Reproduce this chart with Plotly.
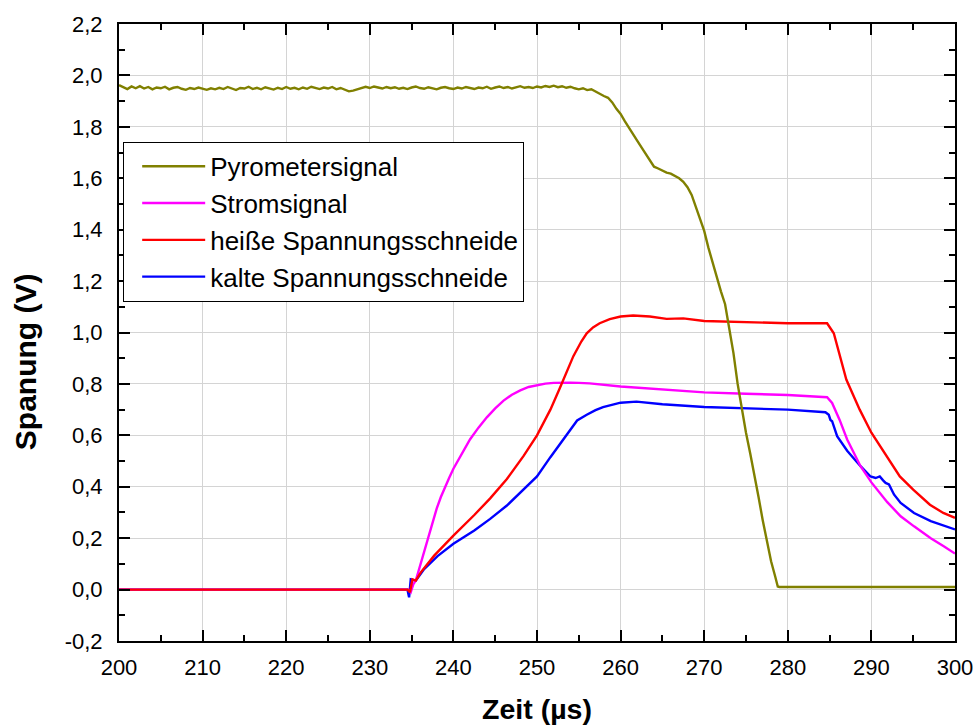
import plotly.graph_objects as go

# ---------------- data ----------------
pyro_t = [200, 200.5, 201, 201.5, 202, 202.5, 203, 203.5, 204, 204.5,
          205, 205.5, 206, 206.5, 207, 207.5, 208, 208.5, 209, 209.5,
          210, 210.5, 211, 211.5, 212, 212.5, 213, 213.5, 214, 214.5,
          215, 215.5, 216, 216.5, 217, 217.5, 218, 218.5, 219, 219.5,
          220, 220.5, 221, 221.5, 222, 222.5, 223, 223.5, 224, 224.5,
          225, 225.5, 226, 226.5, 227, 227.5, 228, 228.5, 229, 229.5,
          230, 230.5, 231, 231.5, 232, 232.5, 233, 233.5, 234, 234.5,
          235, 235.5, 236, 236.5, 237, 237.5, 238, 238.5, 239, 239.5,
          240, 240.5, 241, 241.5, 242, 242.5, 243, 243.5, 244, 244.5,
          245, 245.5, 246, 246.5, 247, 247.5, 248, 248.5, 249, 249.5,
          250, 250.5, 251, 251.5, 252, 252.5, 253, 253.5, 254, 254.5,
          255, 255.5, 256, 256.5, 257, 257.5, 258, 258.5, 259, 259.5,
          260, 260.5, 261, 261.5, 262, 262.5, 263, 263.5, 264, 264.5,
          265, 265.5, 266, 266.5, 267, 267.5, 268, 268.5, 269, 269.5,
          270, 270.5, 271, 271.5, 272, 272.5, 273, 273.5, 274, 274.5,
          275, 275.5, 276, 276.5, 277, 277.5, 278, 278.5, 278.8, 279,
          285, 290, 295, 300]
pyro_v = [1.962, 1.954, 1.947, 1.957, 1.950, 1.958, 1.949, 1.955, 1.946, 1.953,
          1.950, 1.956, 1.946, 1.952, 1.955, 1.948, 1.944, 1.951, 1.947, 1.953,
          1.949, 1.944, 1.950, 1.946, 1.952, 1.947, 1.955, 1.948, 1.943, 1.951,
          1.949, 1.956, 1.947, 1.952, 1.946, 1.954, 1.949, 1.945, 1.952, 1.947,
          1.955, 1.948, 1.952, 1.946, 1.953, 1.948, 1.956, 1.950, 1.947, 1.953,
          1.949, 1.955, 1.946, 1.951, 1.944, 1.938, 1.941, 1.947, 1.953, 1.956,
          1.951, 1.957, 1.953, 1.949, 1.955, 1.950, 1.954, 1.948, 1.952, 1.947,
          1.953, 1.957, 1.951, 1.948, 1.954, 1.949, 1.946, 1.952, 1.955, 1.950,
          1.947, 1.953, 1.949, 1.955, 1.951, 1.947, 1.953, 1.950, 1.956, 1.948,
          1.953, 1.957, 1.951, 1.955, 1.949, 1.954, 1.958, 1.952, 1.955, 1.951,
          1.957, 1.953, 1.959, 1.955, 1.960, 1.954, 1.958, 1.952, 1.956, 1.950,
          1.946, 1.950, 1.943, 1.946, 1.937, 1.927, 1.920, 1.913, 1.895, 1.870,
          1.850, 1.822, 1.795, 1.770, 1.745, 1.720, 1.695, 1.665, 1.645, 1.638,
          1.630, 1.622, 1.618, 1.610, 1.600, 1.586, 1.565, 1.535, 1.490, 1.445,
          1.395, 1.330, 1.270, 1.220, 1.160, 1.110, 1.020, 0.920, 0.800, 0.700,
          0.610, 0.530, 0.450, 0.360, 0.270, 0.190, 0.110, 0.050, 0.012, 0.010,
          0.010, 0.010, 0.010, 0.010]

strom_t = [200, 234.6, 234.9, 235.2, 235.5, 236.0, 236.5, 237.0, 237.5, 238.0,
           238.5, 239.0, 239.5, 240.0, 241.0, 242.0, 243.0, 244.0, 245.0, 246.0,
           247.0, 248.0, 249.0, 250.0, 251.0, 252.0, 253.0, 254.0, 255.0, 256.3,
           260.0, 265.0, 270.0, 275.0, 280.0, 284.7, 285.3, 286.2, 287.1, 288.7,
           290.0, 291.9, 293.5, 295.1, 297.1, 298.7, 300.0]
strom_v = [0.0, 0.0, -0.01, 0.02, 0.035, 0.09, 0.15, 0.21, 0.265, 0.315,
           0.36, 0.40, 0.435, 0.47, 0.53, 0.585, 0.63, 0.67, 0.705, 0.735,
           0.758, 0.775, 0.788, 0.796, 0.801, 0.804, 0.805, 0.805, 0.804, 0.802,
           0.79, 0.778, 0.767, 0.762, 0.757, 0.748, 0.726, 0.66, 0.584, 0.48,
           0.417, 0.34, 0.285, 0.246, 0.20, 0.168, 0.14]

hot_t = [200, 234.5, 234.8, 235.1, 235.5, 236.1, 237.7, 240.0, 242.5, 244.4,
         246.4, 248.4, 250.0, 251.6, 252.75, 254.35, 255.3, 255.95, 256.7, 257.5,
         258.7, 260.0, 261.5, 263.5, 265.5, 267.5, 270.0, 275.0, 280.0, 284.7,
         285.5, 287.0, 288.6, 290.0, 291.8, 293.4, 295.0, 297.0, 298.6, 300.0]
hot_v = [0.0, 0.0, -0.01, 0.04, 0.035, 0.067, 0.132, 0.21, 0.29, 0.355,
         0.43, 0.52, 0.60, 0.70, 0.785, 0.908, 0.965, 0.997, 1.02, 1.036,
         1.052, 1.062, 1.066, 1.062, 1.053, 1.055, 1.045, 1.040, 1.036, 1.036,
         0.997, 0.817, 0.70, 0.61, 0.52, 0.44, 0.389, 0.33, 0.298, 0.279]

cold_t = [200, 234.5, 234.7, 234.9, 235.5, 236.5, 238.1, 240.0, 242.5, 244.4,
          246.4, 248.4, 250.0, 251.6, 253.2, 254.8, 255.95, 257.0, 257.9, 260.0,
          261.9, 265.0, 270.0, 275.2, 280.0, 284.5, 284.9, 285.1, 285.3, 285.9,
          287.1, 288.7, 289.9, 290.5, 291.0, 291.4, 291.7, 292.1, 292.7, 293.5,
          295.1, 297.1, 300.0]
cold_v = [0.0, 0.0, -0.03, 0.04, 0.035, 0.08, 0.13, 0.178, 0.23, 0.275,
          0.327, 0.39, 0.44, 0.515, 0.586, 0.658, 0.68, 0.698, 0.71, 0.727,
          0.731, 0.721, 0.71, 0.706, 0.70, 0.69, 0.68, 0.66, 0.655, 0.597,
          0.54, 0.48, 0.44, 0.434, 0.44, 0.425, 0.415, 0.409, 0.37, 0.337,
          0.298, 0.266, 0.234]

series_names = ["Pyrometersignal", "Stromsignal", "heiße Spannungsschneide",
                "kalte Spannungsschneide"]

y_ticks = [-0.2, 0.0, 0.2, 0.4, 0.6, 0.8, 1.0, 1.2, 1.4, 1.6, 1.8, 2.0, 2.2]
y_ticktext = ["-0,2", "0,0", "0,2", "0,4", "0,6", "0,8", "1,0", "1,2", "1,4",
              "1,6", "1,8", "2,0", "2,2"]
x_ticks = [200, 210, 220, 230, 240, 250, 260, 270, 280, 290, 300]
x_title = "Zeit (µs)"
y_title = "Spanung (V)"

# ---------------- figure ----------------
fig = go.Figure()
lw = 2.4
fig.add_trace(go.Scatter(x=cold_t, y=cold_v, mode="lines", name=series_names[3],
                         line=dict(color="#0000FF", width=lw), legendrank=4))
fig.add_trace(go.Scatter(x=strom_t, y=strom_v, mode="lines", name=series_names[1],
                         line=dict(color="#FF00FF", width=lw), legendrank=2))
fig.add_trace(go.Scatter(x=hot_t, y=hot_v, mode="lines", name=series_names[2],
                         line=dict(color="#FF0000", width=lw), legendrank=3))
fig.add_trace(go.Scatter(x=pyro_t, y=pyro_v, mode="lines", name=series_names[0],
                         line=dict(color="#808000", width=lw), legendrank=1))

font_family = "Liberation Sans, Arial, sans-serif"
axis_common = dict(
    showline=True, linecolor="black", linewidth=2, mirror="ticks",
    ticks="inside", ticklen=11, tickwidth=2, tickcolor="black",
    showgrid=True, gridcolor="#d4d4d4", gridwidth=1, zeroline=False,
    automargin=False,
    tickfont=dict(family=font_family, size=22, color="black"),
)

fig.update_xaxes(
    range=[200, 300], tickvals=x_ticks,
    minor=dict(dtick=5, tick0=200, ticks="inside", ticklen=6, tickwidth=2,
               tickcolor="black", showgrid=False),
    title=dict(text="<b>" + x_title + "</b>",
               font=dict(family=font_family, size=28.5, color="black"), standoff=20),
    ticklabelstandoff=6,
    **axis_common,
)
fig.update_yaxes(
    range=[-0.2, 2.2], tickvals=y_ticks, ticktext=y_ticktext,
    minor=dict(dtick=0.1, tick0=0, ticks="inside", ticklen=6, tickwidth=2,
               tickcolor="black", showgrid=False),
    ticklabelstandoff=10,
    **axis_common,
)

# y-axis title (placed lower than the axis centre, as in the original)
fig.add_annotation(
    text="<b>" + y_title + "</b>", textangle=-90, showarrow=False,
    xref="paper", yref="paper", x=-0.1124, y=0.452,
    xanchor="center", yanchor="middle",
    font=dict(family=font_family, size=30, color="black"),
)

fig.update_layout(
    width=977, height=728,
    margin=dict(l=119, r=22, t=24, b=87),
    plot_bgcolor="white", paper_bgcolor="white",
    font=dict(family=font_family, color="black"),
    showlegend=True,
    legend=dict(
        x=0.005, y=0.809, xanchor="left", yanchor="top",
        bgcolor="white", bordercolor="black", borderwidth=1,
        font=dict(family=font_family, size=26, color="black"),
        itemwidth=63, indentation=13, traceorder="normal",
    ),
)

fig.write_html("out.html")
